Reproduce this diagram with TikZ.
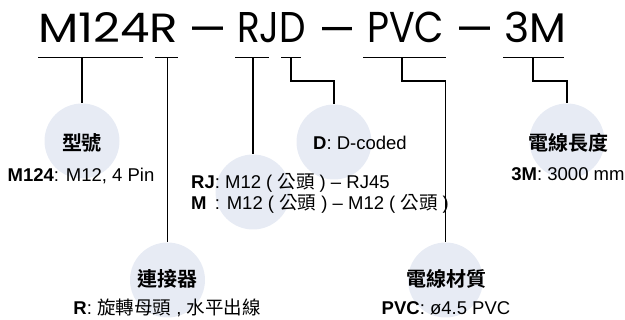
\documentclass[tikz,border=0pt]{standalone}
\usepackage{fontspec}
\setmainfont{Liberation Sans}
\newfontfamily\zhfont{Noto Sans CJK TC}[BoldFont={Noto Sans CJK TC Bold}]
\newfontfamily\titlefont{Poppins}
\newcommand\zh[1]{{\zhfont #1}}
\newcommand\tdash[1]{{\normalfont\fontsize{#1}{#1}\selectfont\raisebox{1.2pt}{\scalebox{1}[1.63]{—}}}}
\definecolor{bubblecol}{RGB}{231,235,244}
\tikzset{
  bubble/.style={circle, fill=bubblecol, minimum size=75pt, inner sep=0pt},
  conn/.style={line width=1.1pt, black},
  head/.style={font={\zhfont\bfseries\fontsize{20}{24}\selectfont}, inner sep=0pt},
  body/.style={font={\fontsize{18.5}{22}\selectfont}, inner sep=0pt},
  titlew/.style={font=\titlefont, inner sep=0pt, anchor=base west},
}
\begin{document}
\begin{tikzpicture}[x=1pt,y=-1pt]
\useasboundingbox (0,0) rectangle (625,320);
% bubbles
\node[bubble] (c1) at (82,141) {};
\node[bubble] (c2) at (167.5,280) {};
\node[bubble] (c3) at (253,192) {};
\node[bubble] (c4) at (334,142) {};
\node[bubble] (c5) at (445.5,280) {};
\node[bubble] (c6) at (567,141) {};
% title
\node[titlew] (t1) at (38,42.7) {\resizebox{140pt}{30pt}{M124R}};
\node[titlew] (t2) at (192,42.7) {\tdash{31}};
\node[titlew] (t3) at (237,42.7) {\resizebox{69pt}{30pt}{RJD}};
\node[titlew] (t4) at (322,42.7) {\tdash{30}};
\node[titlew] (t5) at (367,42.7) {\resizebox{77pt}{30.5pt}{PVC}};
\node[titlew] (t6) at (459,42.7) {\tdash{31}};
\node[titlew] (t7) at (504,42.7) {\resizebox{62pt}{30.5pt}{3M}};
% underlines
\draw[conn] (38,57.5) -- (143,57.5);
\draw[conn] (155,57.5) -- (178,57.5);
\draw[conn] (235,57.5) -- (269,57.5);
\draw[conn] (281,57.5) -- (301,57.5);
\draw[conn] (363,57.5) -- (446,57.5);
\draw[conn] (503,57.5) -- (564,57.5);
% connector starts
\coordinate (u1) at (82,57.5);
\coordinate (u2) at (167.5,57.5);
\coordinate (u3) at (253,57.5);
\coordinate (u4) at (291,57.5);
\coordinate (u5) at (402,57.5);
\coordinate (u6) at (533,57.5);
\draw[conn] (u1) -- (c1.north);
\draw[conn] (u2) -- (c2.north);
\draw[conn] (u3) -- (c3.north);
\draw[conn] (u4) -- ++(0,23.5) -| (c4.north);
\draw[conn] (u5) -- ++(0,23.5) -| (c5.north);
\draw[conn] (u6) -- ++(0,23.5) -| (c6.north);
% texts
\node[head] (h1) at (82,143) {型號};
\node[body, anchor=base] (d1) at (81,181.5) {\textbf{M124}: M12, 4 Pin};
\node[body, anchor=base west] (d4) at (313,149.6) {\textbf{D}: D-coded};
\node[head] (h6) at (568,143) {電線長度};
\node[body, anchor=base] (d6) at (568,181) {\textbf{3M}: 3000 mm};
\node[body, anchor=base west] (d3a) at (191,189) {\textbf{RJ}: M12 ( \zh{公頭} ) – RJ45};
\node[body, anchor=base west] (d3b) at (191,209.5) {\rlap{\textbf{M}}\phantom{\textbf{RJ}}: M12 ( \zh{公頭} ) – M12 ( \zh{公頭} )};
\node[head] (h2) at (167,279) {連接器};
\node[body, anchor=base] (d2) at (167,314.6) {\textbf{R}: \zh{旋轉母頭} , \zh{水平出線}};
\node[head] (h5) at (446,279) {電線材質};
\node[body, anchor=base] (d5) at (446,315) {\textbf{PVC}: ø4.5 PVC};
\end{tikzpicture}
\end{document}
